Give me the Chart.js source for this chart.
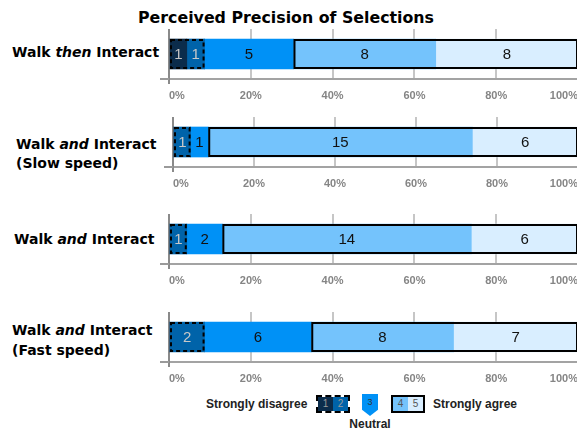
<!DOCTYPE html>
<html>
<head>
<meta charset="utf-8">
<script src="https://cdn.jsdelivr.net/npm/chart.js@4.4.1/dist/chart.umd.min.js"></script>
<style>
  html, body { margin: 0; padding: 0; background: #fff; }
  #wrap { position: relative; width: 577px; height: 432px; overflow: hidden; font-family: "DejaVu Sans", sans-serif; }
  .panel { position: absolute; left: 0; width: 583px; }
  .cat { position: absolute; font: bold 14px "DejaVu Sans", sans-serif; color: #000; white-space: nowrap; }
  #title { position: absolute; left: 0; width: 572px; top: 8px; text-align: center; font: bold 15.8px "DejaVu Sans", sans-serif; }
  .leg { position: absolute; font: bold 12px "Liberation Sans", Arial, sans-serif; color: #222; white-space: nowrap; }
  .box { position: absolute; display: flex; box-sizing: border-box; border: 2px solid #000; }
  .box span { flex: 1; text-align: center; font: 10px "Liberation Sans", Arial, sans-serif; line-height: 14px; }
</style>
</head>
<body>
<div id="wrap">
  <div id="title">Perceived Precision of Selections</div>
</div>
<script>
// DATA
const categories = ['Walk <i>then</i> Interact', 'Walk <i>and</i> Interact<br>(Slow speed)', 'Walk <i>and</i> Interact', 'Walk <i>and</i> Interact<br>(Fast speed)'];
const levels = ['1', '2', '3', '4', '5'];
const stronglyDisagree = [1, 0, 0, 0];
const disagree = [1, 1, 1, 2];
const neutral = [5, 1, 2, 6];
const agree = [8, 15, 14, 8];
const stronglyAgree = [8, 6, 6, 7];
const xTicks = [0, 20, 40, 60, 80, 100];

const series = [stronglyDisagree, disagree, neutral, agree, stronglyAgree];
const colors = ['#0b2c4b', '#0063a9', '#0091f6', '#74c3fc', '#d9eeff'];
const labelColors = ['#c4c4c4', '#c8c8c8', '#111', '#111', '#111'];

// panel placement
const panels = [
  { top: 29,  left: 169, lab: { x: 12, y: 44 } },
  { top: 117, left: 173, lab: { x: 16, y: 135, lh: 19 } },
  { top: 214, left: 169, lab: { x: 14, y: 231 } },
  { top: 312, left: 169, lab: { x: 12, y: 320, lh: 20 } }
];

// counts inside segments
const segLabels = {
  id: 'segLabels',
  afterDatasetsDraw(chart) {
    const ctx = chart.ctx;
    ctx.save();
    ctx.font = '15px "Liberation Sans", Arial, sans-serif';
    ctx.textAlign = 'center';
    ctx.textBaseline = 'middle';
    chart.data.datasets.forEach((ds, i) => {
      chart.getDatasetMeta(i).data.forEach((bar, j) => {
        const n = ds.counts[j];
        if (!n) return;
        const p = bar.getProps(['x', 'y', 'base'], true);
        ctx.fillStyle = labelColors[i];
        ctx.fillText(String(n), (p.x + p.base) / 2, p.y + 1);
      });
    });
    ctx.restore();
  }
};

// outline around disagree (dashed) and agree (solid) groups
const groupBoxes = {
  id: 'groupBoxes',
  afterDatasetsDraw(chart) {
    const ctx = chart.ctx;
    const groups = [{ sets: [0, 1], dash: [4, 3] }, { sets: [3, 4], dash: [] }];
    ctx.save();
    ctx.strokeStyle = '#000';
    ctx.lineWidth = 2;
    groups.forEach(g => {
      let x0 = Infinity, x1 = -Infinity, y = 0, h = 0;
      g.sets.forEach(i => {
        const bar = chart.getDatasetMeta(i).data[0];
        if (!chart.data.datasets[i].counts[0]) return;
        const p = bar.getProps(['x', 'y', 'base', 'height'], true);
        x0 = Math.min(x0, p.base, p.x);
        x1 = Math.max(x1, p.base, p.x);
        y = p.y; h = p.height;
      });
      if (x1 <= x0) return;
      ctx.setLineDash(g.dash);
      ctx.strokeRect(x0 + 1, y - h / 2 + 1, x1 - x0 - 2, h - 2);
    });
    ctx.restore();
  }
};

// small stub of the x axis line left of the 0% line
const axisStub = {
  id: 'axisStub',
  afterDraw(chart) {
    const a = chart.chartArea, ctx = chart.ctx;
    ctx.save();
    ctx.strokeStyle = '#9a9a9a';
    ctx.lineWidth = 2;
    ctx.beginPath();
    ctx.moveTo(a.left - 9, a.bottom);
    ctx.lineTo(a.left, a.bottom);
    ctx.stroke();
    ctx.restore();
  }
};

const wrap = document.getElementById('wrap');

panels.forEach((pn, k) => {
  const total = series.reduce((s, arr) => s + arr[k], 0);

  const lab = document.createElement('div');
  lab.className = 'cat';
  lab.style.left = pn.lab.x + 'px';
  lab.style.top = pn.lab.y + 'px';
  lab.style.lineHeight = (pn.lab.lh || 17) + 'px';
  lab.innerHTML = categories[k];
  wrap.appendChild(lab);

  const box = document.createElement('div');
  box.className = 'panel';
  box.style.top = pn.top + 'px';
  box.style.height = '75px';
  const cv = document.createElement('canvas');
  box.appendChild(cv);
  wrap.appendChild(box);

  new Chart(cv, {
    type: 'bar',
    data: {
      labels: [categories[k]],
      datasets: series.map((arr, i) => ({
        label: levels[i],
        data: [arr[k] / total * 100],
        counts: [arr[k]],
        backgroundColor: colors[i],
        borderWidth: 0,
        barThickness: 30
      }))
    },
    options: {
      indexAxis: 'y',
      responsive: true,
      maintainAspectRatio: false,
      animation: false,
      layout: { padding: { left: pn.left, right: 0, top: 0, bottom: 0 } },
      plugins: { legend: { display: false }, tooltip: { enabled: false } },
      scales: {
        x: {
          stacked: true,
          min: 0,
          max: 100,
          afterBuildTicks: s => { s.ticks = xTicks.map(v => ({ value: v })); },
          afterFit: s => { s.height = 25; },
          ticks: {
            align: 'inner',
            padding: 5,
            color: '#858585',
            font: { family: '"Liberation Sans", Arial, sans-serif', size: 11, weight: 'bold' },
            callback: v => v + '%'
          },
          grid: {
            color: '#c6c6c6',
            lineWidth: 2,
            drawTicks: true,
            tickLength: 5,
            tickColor: c => c.index === 0 ? '#8a8a8a' : 'rgba(0,0,0,0)'
          },
          border: { display: true, color: '#a3a3a3', width: 2 }
        },
        y: {
          stacked: true,
          afterFit: s => { s.width = 0; },
          ticks: { display: false },
          grid: { display: true, drawOnChartArea: false, drawTicks: false },
          border: { display: true, color: '#8a8a8a', width: 2 }
        }
      }
    },
    plugins: [segLabels, groupBoxes, axisStub]
  });
});

// legend
function addText(txt, x, y, center) {
  const d = document.createElement('div');
  d.className = 'leg';
  d.textContent = txt;
  d.style.left = x + 'px';
  d.style.top = y + 'px';
  if (center) d.style.transform = 'translateX(-50%)';
  wrap.appendChild(d);
}
function addBox(idx, x, dashed) {
  const b = document.createElement('div');
  b.className = 'box';
  b.style.left = x + 'px';
  b.style.top = '395px';
  b.style.width = '34px';
  b.style.height = '18px';
  if (dashed) b.style.borderStyle = 'dashed';
  idx.forEach(i => {
    const s = document.createElement('span');
    s.textContent = levels[i];
    s.style.background = colors[i];
    s.style.color = i < 2 ? '#9a9a9a' : '#555';
    b.appendChild(s);
  });
  wrap.appendChild(b);
}
addText('Strongly disagree', 206, 397);
addBox([0, 1], 316, true);
const nb = document.createElement('div');
nb.style.cssText = 'position:absolute;left:362px;top:394px;width:16px;height:22px;background:' + colors[2] +
  ';clip-path:polygon(0 0,100% 0,100% 72%,50% 100%,0 72%);text-align:center;font:9px "Liberation Sans",Arial,sans-serif;line-height:16px;color:#333;';
nb.textContent = levels[2];
wrap.appendChild(nb);
addText('Neutral', 370, 417, true);
addBox([3, 4], 391, false);
addText('Strongly agree', 433, 397);
</script>
</body>
</html>
